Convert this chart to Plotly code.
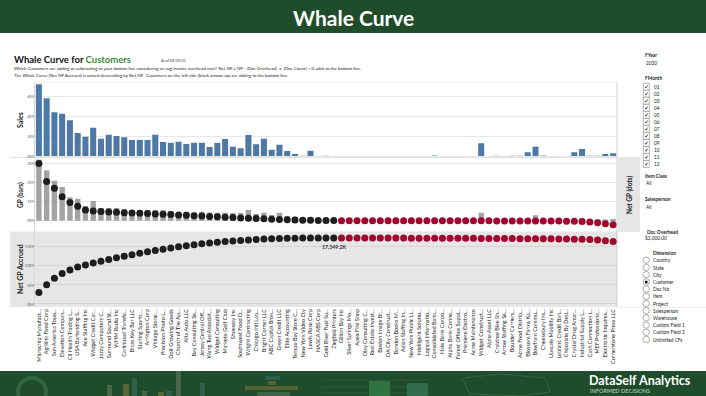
import plotly.graph_objects as go

# ---------------- data ----------------
customers = [
    "Microchip Manufact...", "Agrilink Food Corp", "Sun America Topo...", "Elevation Compan...",
    "Cli Health Trading L...", "USA Bartending S...", "Ace Staffing Inc", "Widget Credit Car...",
    "Jazzy Computers C...", "Surround Sound St...", "WHM Radio Inc", "Carlinboat Transfe...",
    "Brass Key Bar LLC", "Starling Sports ...", "Arrington Corp", "Vintage Stone ...",
    "Precision Photo L...", "Dolt Growing Goods", "Church of The Ap...", "Alta Auto LLC",
    "Bay Consulting Se...", "Jersey Central Off...", "Wang Tuo Associat...", "Widget Consulting",
    "Marketo Golf Club", "Shoeway Inc", "Southwest Food D...", "Wright Contracting",
    "Chicago Intl Lab...", "Bright Corner LLC", "ABC Capital Brok...", "Green Credit LLC",
    "Elite Accounting", "Tempo Bay Store C...", "New York Video Cty", "Lewis Rose Corp",
    "NASCA ABS Corp", "Gold River Fuel Su...", "Ziegfeld Printers", "Gillian Bay Inc",
    "Silver Springs Mo...", "Apex Fire Shop", "Olay Consulting C...", "Real Estate Invest...",
    "Boston Image Br...", "DA City Construct...", "Bandon Books M...", "Asian Staffing In...",
    "New York Public Li...", "Intelligent Solutio...", "Logical Informatio...", "Consolidated Bank...",
    "Hale Bank Corpo...", "Alpha Bank Conne...", "Forest Office Suppl...", "Premiere Electro...",
    "Acme Maintenance", "Widget Construct...", "Alpha Asset LLC", "Crabtree Bike Sh...",
    "Arrow Staffing Se...", "Boulder Carriers...", "Acme Food Distrib...", "Blossom Farms Ka...",
    "Bowfram Commu...", "Cheesebury Ins...", "Upscale Mobility Inc", "Leblanc Credit Ban...",
    "Chocolate By Desi...", "Crystal Drug Amar...", "Industrial Supply L...", "Cash Connection I...",
    "MEF Professiona...", "Electronic Inquires...", "Cornerstone Press LLC",
]

sales_m = [
    7.17, 5.77, 4.37, 4.23, 3.57, 2.30, 1.93, 2.83, 1.73, 2.13,
    2.00, 1.87, 1.60, 1.60, 1.60, 2.13, 1.40, 1.33, 1.43, 1.20,
    1.33, 1.33, 0.90, 1.30, 1.70, 0.93, 0.77, 2.10, 1.17, 1.73,
    0.63, 1.13, 0.50, 0.13, 0.08, 0.53, 0.00, 0.08, 0.00, 0.00,
    0.00, 0.00, 0.00, 0.00, 0.00, 0.00, 0.00, 0.00, 0.00, 0.00,
    0.00, 0.05, 0.00, 0.00, 0.00, 0.00, 0.00, 1.27, 0.00, 0.06,
    0.00, 0.06, 0.06, 0.37, 0.93, 0.05, 0.00, 0.00, 0.00, 0.37,
    0.70, 0.06, 0.06, 0.20, 0.27,
]

gp_k = [
    3200, 2640, 2090, 1760, 1230, 1150, 770, 1030, 660, 660,
    660, 600, 560, 560, 560, 560, 540, 500, 430, 470,
    430, 470, 430, 420, 420, 400, 400, 560, 350, 420,
    300, 420, 250, 200, 150, 180, 100, 60, 40, 10,
    10, 8, 8, 8, 6, 6, 6, 6, 6, 6,
    5, 20, 5, 5, 5, 5, 5, 420, 5, 15,
    5, 15, 15, 60, 280, 12, 4, 4, 4, 70,
    120, 10, 10, 40, 90,
]

net_gp_k = [
    2990, 2050, 1700, 1250, 950, 750, 560, 500, 480, 460,
    440, 420, 400, 385, 370, 355, 340, 320, 300, 280,
    260, 240, 220, 200, 180, 160, 145, 130, 115, 100,
    80, 65, 50, 38, 28, 18, 10, 6.4, 3.8, -2,
    -3, -3, -4, -4, -5, -5, -5, -6, -6, -6,
    -7, -7, -8, -8, -8, -9, -9, -10, -10, -11,
    -12, -12, -13, -14, -15, -16, -18, -20, -25, -32,
    -45, -70, -110, -165, -215,
]

sales_ticks_m = [0, 2, 4, 6]
gp_ticks_m = [0, 1, 2, 3]
accrued_ticks_m = [0, 5, 10, 15]

fmonths = ["01", "02", "03", "04", "05", "06", "07", "08", "09", "10", "11", "12"]
dimensions = ["Country", "State", "City", "Customer", "Doc No", "Item", "Project",
              "Salesperson", "Warehouse", "Custom Field 1", "Custom Field 2", "Unlimited CFs"]
selected_dimension = "Customer"

# ---------------- derived ----------------
sales = [v * 1e6 for v in sales_m]
gp = [v * 1e3 for v in gp_k]
net_gp = [v * 1e3 for v in net_gp_k]
accrued = []
running = 0.0
for v in net_gp:
    running += v
    accrued.append(running)
n = len(customers)
peak_i = max(range(n), key=lambda i: accrued[i])

# ---------------- styling ----------------
W, H = 706, 396
FONT = "Lato"
GREEN = "#1f4d2b"
BLUE = "#4e79a7"
PALE = "#dcdcdc"
LIGHTBLUE = "#b7c7db"
pale_idx = {34, 37, 59, 61, 62, 71, 72}
light_idx = {51, 65}
sales_colors = [PALE if i in pale_idx else (LIGHTBLUE if i in light_idx else BLUE) for i in range(n)]
dot_colors = ["#1e1e1e" if v > 0 else "#a0062e" for v in net_gp]


def fx(p):
    return p / W


def fy(p):
    return 1 - p / H


X_DOM = [fx(35), fx(617)]
SALES_DOM = [fy(157.5), fy(82)]
GP_DOM = [fy(231.5), fy(157.5)]
ACC_DOM = [fy(307), fy(231.5)]

fig = go.Figure()
fig.add_trace(go.Bar(x=customers, y=sales, xaxis="x", yaxis="y", width=0.78,
                     marker=dict(color=sales_colors, line=dict(width=0))))
fig.add_trace(go.Bar(x=customers, y=gp, xaxis="x2", yaxis="y2", width=0.7,
                     marker=dict(color="#a3a3a3", line=dict(width=0))))
fig.add_trace(go.Scatter(x=customers, y=net_gp, xaxis="x2", yaxis="y2", mode="markers",
                         marker=dict(size=7, color=dot_colors, line=dict(width=0))))
fig.add_trace(go.Scatter(x=customers, y=accrued, xaxis="x3", yaxis="y3", mode="markers",
                         marker=dict(size=7, color=dot_colors, line=dict(width=0))))

xcommon = dict(type="category", categoryorder="array", categoryarray=customers,
               range=[-0.5, n - 0.5], domain=X_DOM, showgrid=False, zeroline=False,
               showline=False, ticks="", automargin=False)
ytick_font = dict(family=FONT, size=4.5, color="#666")


def ycommon(dom, rng, ticks_m, anchor, grid):
    return dict(domain=dom, range=rng, tickvals=[t * 1e6 for t in ticks_m],
                ticktext=[f"{t}M" for t in ticks_m], tickfont=ytick_font,
                showgrid=True, gridcolor=grid, gridwidth=1, zeroline=False,
                showline=False, ticks="", anchor=anchor, automargin=False)


fig.update_layout(
    width=W, height=H, autosize=False,
    margin=dict(l=0, r=0, t=0, b=0),
    paper_bgcolor="white", plot_bgcolor="rgba(0,0,0,0)",
    showlegend=False, bargap=0.2,
    font=dict(family=FONT, color="#333"),
    xaxis=dict(xcommon, anchor="y", showticklabels=False, matches="x3"),
    xaxis2=dict(xcommon, anchor="y2", showticklabels=False, matches="x3"),
    xaxis3=dict(xcommon, anchor="y3", showticklabels=True, tickangle=-90,
                tickfont=dict(family=FONT, size=5.5, color="#222")),
    yaxis=ycommon(SALES_DOM, [-0.15e6, 7.4e6], sales_ticks_m, "x", "#e8e8e8"),
    yaxis2=ycommon(GP_DOM, [-0.565e6, 3.3e6], gp_ticks_m, "x2", "#e8e8e8"),
    yaxis3=ycommon(ACC_DOM, [-0.8e6, 19.05e6], accrued_ticks_m, "x3", "#d6d6d6"),
)

shapes = []
ann = []


def rect(x0, y0, x1, y1, fill, line=None, lw=0, layer="below", opacity=1):
    shapes.append(dict(type="rect", xref="paper", yref="paper", x0=fx(x0), x1=fx(x1),
                       y0=fy(y1), y1=fy(y0), fillcolor=fill, opacity=opacity,
                       line=dict(color=line or fill, width=lw), layer=layer))


def hline(x0, x1, y, color, w=1):
    shapes.append(dict(type="line", xref="paper", yref="paper", x0=fx(x0), x1=fx(x1),
                       y0=fy(y), y1=fy(y), line=dict(color=color, width=w), layer="below"))


def vline(x, y0, y1, color, w=1):
    shapes.append(dict(type="line", xref="paper", yref="paper", x0=fx(x), x1=fx(x),
                       y0=fy(y0), y1=fy(y1), line=dict(color=color, width=w), layer="below"))


def text(x, y, s, size=5, color="#333", bold=False, anchor="left", angle=0):
    ann.append(dict(xref="paper", yref="paper", x=fx(x), y=fy(y), showarrow=False,
                    text=f"<b>{s}</b>" if bold else s, xanchor=anchor, yanchor="middle",
                    textangle=angle, font=dict(family=FONT, size=size, color=color)))


# header / footer bands
rect(0, 0, 706, 33, GREEN)
rect(0, 371, 706, 396, GREEN)
text(353, 17, "Whale Curve", size=21, color="white", bold=True, anchor="center")

# footer faint decorations
shapes.append(dict(type="circle", xref="paper", yref="paper", x0=fx(18), x1=fx(46),
                   y0=fy(406), y1=fy(378), line=dict(color="#3d7a4c", width=4),
                   opacity=0.6, layer="above"))
for x0, x1, top, col in [(107, 112, 385, "#6b7b5e"), (123, 129, 384, "#8d7a3e"),
                         (132, 137, 378, "#3f6f6a"), (142, 147, 391, "#5f7a60"),
                         (158, 164, 392, "#8d7a3e"), (166, 172, 391, "#3f6f6a"),
                         (176, 181, 371, "#6b7b6b"), (200, 205, 383, "#3f6f6a")]:
    rect(x0, top, x1, 396, col, layer="above", opacity=0.55)
for x0, x1, y0, y1, col in [(265, 280, 376, 380, "#3f6f6a"), (268, 276, 381, 385, "#8d7a3e"),
                            (245, 298, 386, 390, "#8d7a3e"), (257, 290, 392, 396, "#5f7a60"),
                            (369, 390, 381, 396, "#3f9a5a"), (407, 428, 383, 396, "#3f8a6a")]:
    rect(x0, y0, x1, y1, col, layer="above", opacity=0.5)
for y in (380, 387, 393):
    shapes.append(dict(type="line", xref="paper", yref="paper", x0=fx(323), x1=fx(430),
                       y0=fy(y), y1=fy(y), line=dict(color="#4f7a5a", width=0.6), opacity=0.6))
shapes.append(dict(type="path", xref="paper", yref="paper",
                   path=f"M {fx(462)} {fy(378)} L {fx(500)} {fy(374)} L {fx(545)} {fy(378)} "
                        f"L {fx(550)} {fy(392)} L {fx(520)} {fy(396)} L {fx(470)} {fy(394)} Z",
                   line=dict(color="#5f8f6a", width=0.6), opacity=0.6))
text(587, 380.5, "DataSelf Analytics", size=12.5, color="white", bold=True)
text(588, 390.8, "INFORMED DECISIONS", size=5.6, color="#c9d6c9")

# titles
text(12, 60, "Whale Curve for <span style='color:#3c8c3a'>Customers</span>", size=9.5, color="#111", bold=True)
text(159, 60.5, "As of 02/29/31", size=3.6, color="#333")
text(12, 68.5, "Which Customers are adding or subtracting to your bottom line considering an avg invoice overhead cost? "
               "Net GP = GP - (Doc Overhead)  x  (Doc Count) > 0 adds to the bottom line.", size=4.4, color="#222")
text(12, 75.5, "The Whale Curve (Net GP Accrued) is sorted descending by Net GP.  Customers on the left side "
               "(black arrows up) are adding to the bottom line.", size=4.4, color="#222")

# panel backgrounds / borders
rect(10, 231.5, 617, 307, "#e6e6e6")
rect(618, 157, 640, 232, "#e6e6e6")
hline(35, 617, 82.5, "#eeeeee")
hline(10, 617, 157.5, "#e0e0e0")
vline(34.5, 82, 307, "#d9d9d9")
vline(617, 82, 307, "#cfcfcf")
hline(617, 706, 307.5, "#eeeeee")

# axis titles
text(20, 120, "Sales", size=7, color="#222", bold=True, anchor="center", angle=-90)
text(20, 195, "GP (bars)", size=6.5, color="#222", bold=True, anchor="center", angle=-90)
text(20, 269, "Net GP Accrued", size=7, color="#222", bold=True, anchor="center", angle=-90)
text(629, 195, "Net GP (dots)", size=6.5, color="#222", bold=True, anchor="center", angle=-90)

# peak label
ann.append(dict(xref="x3", yref="y3", x=customers[peak_i], y=accrued[peak_i], yshift=-9,
                showarrow=False, text=f"<b>{accrued[peak_i] / 1000:,.1f}K</b>",
                font=dict(family=FONT, size=5.2, color="#333")))

# right-side filters
text(643, 55, "FYear", size=4.8, color="#222", bold=True)
text(644, 62.5, "2030", size=4.8, color="#222")
text(643, 78.5, "FMonth", size=4.8, color="#222", bold=True)
for k, m in enumerate(fmonths):
    cy = 86.7 + k * 7.03
    rect(643.3, cy - 3.4, 649.3, cy + 3.4, "white", line="#8a8a8a", lw=0.6, layer="above")
    shapes.append(dict(type="path", xref="paper", yref="paper",
                       path=f"M {fx(645.0)} {fy(cy + 0.2)} L {fx(646.0)} {fy(cy + 1.3)} "
                            f"L {fx(647.6)} {fy(cy - 1.3)}",
                       line=dict(color="#222", width=0.8)))
    text(651.5, cy, m, size=4.8, color="#222")
text(643, 176, "Item Class", size=4.8, color="#222", bold=True)
text(644, 182.7, "All", size=4.8, color="#222")
text(643, 199.3, "Salesperson", size=4.8, color="#222", bold=True)
text(644, 206.5, "All", size=4.8, color="#222")
text(662, 231.7, "Doc Overhead", size=4.8, color="#222", bold=True, anchor="center")
text(643, 238.3, "$2,000.00", size=4.8, color="#222")
text(664, 252.7, "Dimension", size=4.8, color="#222", bold=True, anchor="center")
for k, d in enumerate(dimensions):
    cy = 260.3 + k * 7.2
    shapes.append(dict(type="circle", xref="paper", yref="paper", x0=fx(643), x1=fx(649.4),
                       y0=fy(cy + 3.2), y1=fy(cy - 3.2), line=dict(color="#777", width=0.6),
                       fillcolor="white"))
    if d == selected_dimension:
        shapes.append(dict(type="circle", xref="paper", yref="paper", x0=fx(644.7), x1=fx(647.7),
                           y0=fy(cy + 1.5), y1=fy(cy - 1.5), line=dict(width=0), fillcolor="#111"))
    text(651.3, cy, d, size=4.8, color="#222")

fig.update_layout(shapes=shapes, annotations=ann)
fig.write_html("out.html", config={"displayModeBar": False},
               post_script="document.body.style.margin='0';document.body.style.overflow='hidden';")
